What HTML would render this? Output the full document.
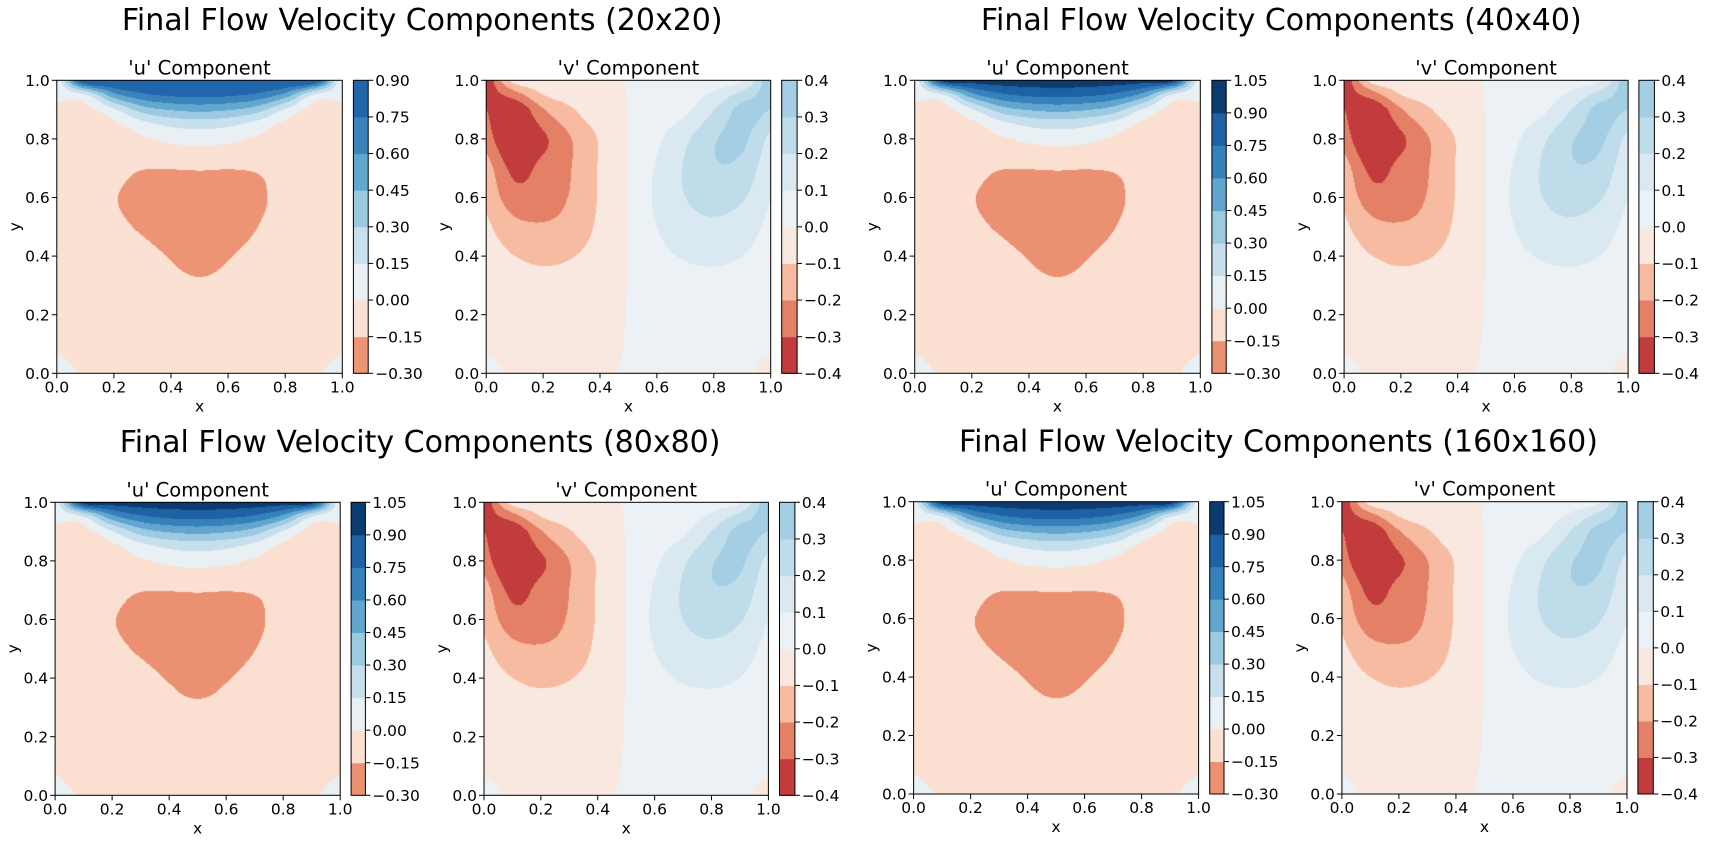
<!DOCTYPE html>
<html><head><meta charset="utf-8">
<style>
html,body{margin:0;padding:0;background:#fff;}
#fig{position:relative;width:1728px;height:846px;overflow:hidden;background:#fff;font-family:"DejaVu Sans","Liberation Sans",sans-serif;}
canvas{position:absolute;}
svg{position:absolute;left:0;top:0;}
text{font-family:"DejaVu Sans","Liberation Sans",sans-serif;fill:#000;}
</style></head>
<body>
<div id="fig">
<svg id="ov" width="1728" height="846"></svg>
</div>
<script>
// ---- data: u component grid (rows = y ascending, cols = x 0..1 step 0.1)
const uX=[0,0.1,0.2,0.3,0.4,0.5,0.6,0.7,0.8,0.9,1.0];
const uY=[0,0.1,0.2,0.3,0.4,0.5,0.6,0.7,0.8,0.85,0.9,0.95,1.0];
const uRow00=[0.03,-0.01,-0.02,-0.02,-0.02,-0.02,-0.02,-0.02,-0.02,-0.01,0.03];
const uRow10=[-0.01,-0.03,-0.05,-0.06,-0.07,-0.07,-0.07,-0.06,-0.05,-0.03,-0.01];
const uRow20=[-0.01,-0.05,-0.07,-0.09,-0.1,-0.105,-0.1,-0.09,-0.07,-0.04,-0.01];
const uRow30=[-0.01,-0.06,-0.09,-0.11,-0.13,-0.14,-0.13,-0.11,-0.09,-0.05,-0.01];
const uRow40=[-0.01,-0.07,-0.1,-0.125,-0.155,-0.175,-0.155,-0.125,-0.1,-0.06,-0.01];
const uRow50=[-0.01,-0.08,-0.13,-0.16,-0.19,-0.2,-0.19,-0.152,-0.12,-0.07,-0.01];
const uRow60=[-0.01,-0.09,-0.145,-0.17,-0.19,-0.19,-0.185,-0.16,-0.13,-0.08,-0.01];
const uRow70=[-0.01,-0.08,-0.12,-0.145,-0.145,-0.14,-0.145,-0.14,-0.12,-0.08,-0.01];
const uRow80=[-0.01,-0.1,-0.08,-0.02,0.03,0.05,0.03,-0.02,-0.08,-0.1,-0.01];
const uRow85=[-0.01,-0.08,-0.03,0.10,0.19,0.22,0.19,0.10,-0.03,-0.08,-0.01];
const uRow90=[-0.01,-0.04,0.14,0.38,0.47,0.5,0.47,0.38,0.14,-0.04,-0.01];
const uRow95=[0.01,0.15,0.55,0.72,0.78,0.8,0.78,0.72,0.55,0.15,0.01];
const uRow100=[0,1,1,1,1,1,1,1,1,1,0];
const uGrid=[uRow00,uRow10,uRow20,uRow30,uRow40,uRow50,uRow60,uRow70,uRow80,uRow85,uRow90,uRow95,uRow100];

// ---- data: v component grid
const vX=[0,0.1,0.2,0.3,0.4,0.5,0.6,0.7,0.8,0.9,1.0];
const vY=[0,0.1,0.2,0.3,0.4,0.5,0.6,0.7,0.8,0.9,0.95,1.0];
const vRow00=[0.01,-0.005,-0.01,-0.005,-0.003,0.002,0.003,0.005,0.01,0.005,-0.01];
const vRow10=[-0.005,-0.01,-0.02,-0.015,-0.01,0.002,0.01,0.015,0.02,0.01,0.005];
const vRow20=[-0.01,-0.03,-0.04,-0.035,-0.02,0.002,0.02,0.03,0.04,0.03,0.01];
const vRow30=[-0.03,-0.06,-0.07,-0.06,-0.03,0.002,0.04,0.06,0.07,0.06,0.03];
const vRow40=[-0.05,-0.1,-0.12,-0.105,-0.06,0.002,0.07,0.11,0.12,0.1,0.05];
const vRow50=[-0.08,-0.17,-0.19,-0.16,-0.08,0.002,0.1,0.16,0.18,0.15,0.07];
const vRow60=[-0.12,-0.26,-0.25,-0.19,-0.09,0.002,0.12,0.2,0.24,0.21,0.1];
const vRow70=[-0.15,-0.33,-0.27,-0.2,-0.09,0.002,0.11,0.21,0.29,0.27,0.12];
const vRow80=[-0.25,-0.41,-0.32,-0.2,-0.09,0.002,0.08,0.18,0.29,0.32,0.17];
const vRow90=[-0.3,-0.38,-0.21,-0.11,-0.04,0.002,0.04,0.08,0.2,0.33,0.3];
const vRow95=[-0.36,-0.25,-0.1,-0.06,-0.03,0.002,0.02,0.05,0.12,0.24,0.36];
const vRow100=[-0.4,-0.05,-0.03,-0.02,-0.01,0.002,0.01,0.02,0.04,0.08,0.4];
const vGrid=[vRow00,vRow10,vRow20,vRow30,vRow40,vRow50,vRow60,vRow70,vRow80,vRow90,vRow95,vRow100];

// ---- levels / colours
const uLevels9=[-0.30,-0.15,0.00,0.15,0.30,0.45,0.60,0.75,0.90,1.05];
const uLabels9=["\u22120.30","\u22120.15","0.00","0.15","0.30","0.45","0.60","0.75","0.90","1.05"];
const uColors9=['#eb9172','#fbe0d1','#e8f0f4','#c7dfed','#9ccae0','#62a6d0','#3581ba','#1f61a5','#0c3b70'];
const uLevels8=[-0.30,-0.15,0.00,0.15,0.30,0.45,0.60,0.75,0.90];
const uLabels8=["\u22120.30","\u22120.15","0.00","0.15","0.30","0.45","0.60","0.75","0.90"];
const uColors8=['#ec9474','#fbe1d3','#e8f0f4','#c8e0ed','#9bcae0','#62a7d0','#3a84bb','#2166ac'];
const vLevels=[-0.4,-0.3,-0.2,-0.1,0.0,0.1,0.2,0.3,0.4];
const vLabels=["\u22120.4","\u22120.3","\u22120.2","\u22120.1","0.0","0.1","0.2","0.3","0.4"];
const vColors=['#c23b3d','#e48066','#f7bba1','#f9e8e0','#ebf1f4','#dae8f1','#bfdcea','#a3cee3'];
const axTicks=[0,0.2,0.4,0.6,0.8,1.0];
const axTickLabels=["0.0","0.2","0.4","0.6","0.8","1.0"];
const gridNames=["20x20","40x40","80x80","160x160"];

// ---- layout (pixel geometry)
const panels=[
 {tx:422.2,ty:30,top:80.3,bot:373.3,u:[56.8,342.3],ucb:[353.4,368.2],v:[486.2,770.7],vcb:[781.7,797.1],small:true},
 {tx:1281.3,ty:30,top:80.3,bot:373.3,u:[914.7,1200.3],ucb:[1211.9,1226.2],v:[1344.1,1628.1],vcb:[1638.9,1654.4]},
 {tx:420.1,ty:452,top:502.3,bot:795.3,u:[55.1,340.2],ucb:[351.1,365.4],v:[484,768.4],vcb:[779.5,794.9]},
 {tx:1278.5,ty:451.5,top:501.7,bot:794,u:[913.6,1198.6],ucb:[1209.7,1224],v:[1341.9,1627],vcb:[1637.9,1653.3]}
];

const NS="http://www.w3.org/2000/svg";
const ov=document.getElementById('ov');
const fig=document.getElementById('fig');
function mk(tag,attrs,parent){const e=document.createElementNS(NS,tag);for(const k in attrs)e.setAttribute(k,attrs[k]);(parent||ov).appendChild(e);return e;}
function txt(s,x,y,size,anchor,name,parent){const t=mk('text',{x:x,y:y,'font-size':size,'text-anchor':anchor||'middle'},parent);t.textContent=s;


return t;}

function findIdx(arr,v){let i=0;while(i<arr.length-2&&v>arr[i+1])i++;return i;}
function cr(p0,p1,p2,p3,t){return 0.5*(2*p1+(-p0+p2)*t+(2*p0-5*p1+4*p2-p3)*t*t+(-p0+3*p1-3*p2+p3)*t*t*t);}
function row(g,j,i){const n=g[0].length;const r=g[Math.max(0,Math.min(g.length-1,j))];
 if(i<0)return 2*r[0]-r[1]; if(i>n-1)return 2*r[n-1]-r[n-2]; return r[i];}
function val(xs,ys,g,x,y){
 const i=findIdx(xs,x),j=findIdx(ys,y);
 const tx=(x-xs[i])/(xs[i+1]-xs[i]),ty=(y-ys[j])/(ys[j+1]-ys[j]);
 const rv=[];
 for(let jj=j-1;jj<=j+2;jj++){
  let a,b,c,d;
  if(jj<0){
   const r0=[row(g,0,i-1),row(g,0,i),row(g,0,i+1),row(g,0,i+2)],r1=[row(g,1,i-1),row(g,1,i),row(g,1,i+1),row(g,1,i+2)];
   a=2*r0[0]-r1[0];b=2*r0[1]-r1[1];c=2*r0[2]-r1[2];d=2*r0[3]-r1[3];
  }else if(jj>g.length-1){
   const L=g.length-1;
   const r0=[row(g,L,i-1),row(g,L,i),row(g,L,i+1),row(g,L,i+2)],r1=[row(g,L-1,i-1),row(g,L-1,i),row(g,L-1,i+1),row(g,L-1,i+2)];
   a=2*r0[0]-r1[0];b=2*r0[1]-r1[1];c=2*r0[2]-r1[2];d=2*r0[3]-r1[3];
  }else{a=row(g,jj,i-1);b=row(g,jj,i);c=row(g,jj,i+1);d=row(g,jj,i+2);}
  rv.push(cr(a,b,c,d,tx));
 }
 let v=cr(rv[0],rv[1],rv[2],rv[3],ty);
 const c4=[g[j][i],g[j][i+1],g[j+1][i],g[j+1][i+1]];
 return Math.max(Math.min(...c4),Math.min(Math.max(...c4),v));
}
function hex(c){return [parseInt(c.substr(1,2),16),parseInt(c.substr(3,2),16),parseInt(c.substr(5,2),16)];}

function drawField(left,right,top,bot,xs,ys,g,levels,colors,name){
 const w=Math.round(right-left),h=Math.round(bot-top);
 const cv=document.createElement('canvas');
 cv.width=w;cv.height=h;
 cv.style.left=left+'px';cv.style.top=top+'px';cv.style.width=(right-left)+'px';cv.style.height=(bot-top)+'px';
 
 
 fig.insertBefore(cv,ov);
 const ctx=cv.getContext('2d');const im=ctx.createImageData(w,h);
 const rgb=colors.map(hex);
 for(let py=0;py<h;py++){const y=1-(py+0.5)/h;
  for(let px=0;px<w;px++){const x=(px+0.5)/w;
   const v=val(xs,ys,g,x,y);
   let k=0;while(k<colors.length-1&&v>levels[k+1])k++;
   const c=rgb[k],o=(py*w+px)*4;im.data[o]=c[0];im.data[o+1]=c[1];im.data[o+2]=c[2];im.data[o+3]=255;}}
 ctx.putImageData(im,0,0);
}

const TS=15.5;
function axes(left,right,top,bot,title,prefix){
 const G=mk('g',{});
 
 
 const W=right-left,H=bot-top;
 mk('rect',{x:left,y:top,width:W,height:H,fill:'none',stroke:'#000','stroke-width':1},G);
 axTicks.forEach((t,k)=>{
  const X=left+t*W; mk('line',{x1:X,y1:bot,x2:X,y2:bot+5,stroke:'#000','stroke-width':1},G);
  txt(axTickLabels[k],X,bot+19,TS,'middle',prefix+'-x-tick-label',G);
  const Y=bot-t*H; mk('line',{x1:left-5,y1:Y,x2:left,y2:Y,stroke:'#000','stroke-width':1},G);
  txt(axTickLabels[k],left-7,Y+5.6,TS,'end',prefix+'-y-tick-label',G);
 });
 txt('x',left+W/2,bot+38,TS,'middle',prefix+'-x-axis-title',G);
 const yl=txt('y',0,0,TS,'middle',prefix+'-y-axis-title',G);
 yl.setAttribute('transform','translate('+(left-37)+','+(top+H/2)+') rotate(-90)');
 txt(title,left+W/2,top-6,19.5,'middle',prefix+'-subplot-title',G);
}
function colorbar(left,right,top,bot,levels,labels,colors,prefix){
 const G=mk('g',{});
 
 
 const H=bot-top,lo=levels[0],hi=levels[levels.length-1];
 const yOf=v=>bot-(v-lo)/(hi-lo)*H;
 colors.forEach((c,k)=>{const r=mk('rect',{x:left,y:yOf(levels[k+1]),width:right-left,height:yOf(levels[k])-yOf(levels[k+1])+0.5,fill:c},G);
  
  });
 mk('rect',{x:left,y:top,width:right-left,height:H,fill:'none',stroke:'#000','stroke-width':1},G);
 levels.forEach((v,k)=>{const Y=yOf(v);
  mk('line',{x1:right,y1:Y,x2:right+5,y2:Y,stroke:'#000','stroke-width':1},G);
  txt(labels[k],right+7,Y+5.6,TS,'start',prefix+'-colorbar-tick-label',G);});
}

panels.forEach((p,idx)=>{
 const pre='grid-'+gridNames[idx];
 txt('Final Flow Velocity Components ('+gridNames[idx]+')',p.tx,p.ty,30,'middle',pre+'-figure-title');
 const uL=p.small?uLevels8:uLevels9,uC=p.small?uColors8:uColors9,uLb=p.small?uLabels8:uLabels9;
 drawField(p.u[0],p.u[1],p.top,p.bot,uX,uY,uGrid,uL,uC,pre+'-u-contour');
 drawField(p.v[0],p.v[1],p.top,p.bot,vX,vY,vGrid,vLevels,vColors,pre+'-v-contour');
 axes(p.u[0],p.u[1],p.top,p.bot,"'u' Component",pre+'-u');
 axes(p.v[0],p.v[1],p.top,p.bot,"'v' Component",pre+'-v');
 colorbar(p.ucb[0],p.ucb[1],p.top,p.bot,uL,uLb,uC,pre+'-u');
 colorbar(p.vcb[0],p.vcb[1],p.top,p.bot,vLevels,vLabels,vColors,pre+'-v');
});
</script>
</body></html>
